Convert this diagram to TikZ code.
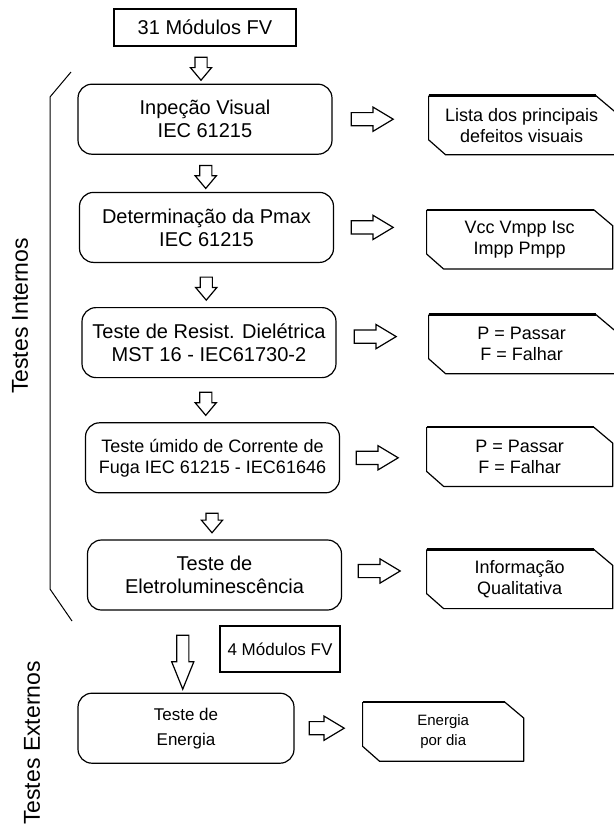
\documentclass[tikz,border=0pt]{standalone}
\usepackage{fontspec}
\setmainfont{Liberation Sans}
\usetikzlibrary{positioning,calc,shapes.arrows}

\begin{document}
\begin{tikzpicture}[x=1pt, y=-1pt, line width=1.2pt,
  proc/.style={draw, rounded corners=14pt, minimum width=254pt, minimum height=70pt, align=center, font=\fontsize{20}{23}\selectfont},
  res/.style={minimum width=185pt, minimum height=58pt, align=center, font=\fontsize{18}{21}\selectfont},
  lot/.style={draw, minimum height=37pt, align=center},
  darr/.style={draw, single arrow, shape border rotate=270, inner sep=5.5pt, single arrow head extend=4.5pt, single arrow tip angle=80, minimum height=23pt},
  rarr/.style={draw, single arrow, inner sep=6pt, single arrow head extend=5.5pt, single arrow tip angle=62, minimum height=42pt},
  side/.style={rotate=90, font=\fontsize{23}{26}\selectfont}
]
\useasboundingbox (0,0) rectangle (613,827);

% Testes internos
\node[lot, minimum width=182pt, font=\fontsize{20}{23}\selectfont] (lot31) at (205,27.5) {31 Módulos FV};
\node[proc, below=37pt of lot31] (b1) {Inpeção Visual\\IEC 61215};
\node[proc, below=37pt of b1, xshift=1.5pt] (b2) {Determinação da Pmax\\IEC 61215};
\node[proc, below=44pt of b2, xshift=2.5pt] (b3) {Teste de Resist. Dielétrica\\MST 16 - IEC61730-2};
\node[proc, below=44pt of b3, xshift=3.5pt, font=\fontsize{18}{21}\selectfont] (b4) {Teste úmido de Corrente de\\Fuga IEC 61215 - IEC61646};
\node[proc, below=46pt of b4, xshift=2pt] (b5) {Teste de\\Eletroluminescência};

% Testes externos
\node[lot, minimum width=120pt, minimum height=46pt, font=\fontsize{17}{20}\selectfont] (lot4) at (280,649) {4 Módulos FV};
\node[proc, below=82pt of b5, xshift=-28.5pt, minimum width=216pt, font=\fontsize{17}{25}\selectfont] (b6) {Teste de\\Energia};

% Resultados
\node[res, right=96pt of b1, yshift=-6pt] (o1) {Lista dos principais\\defeitos visuais};
\node[res, right=92.5pt of b2, yshift=-12pt] (o2) {Vcc Vmpp Isc\\Impp Pmpp};
\node[res, right=92pt of b3, yshift=-1.5pt] (o3) {P = Passar\\F = Falhar};
\node[res, right=86.5pt of b4, yshift=1pt] (o4) {P = Passar\\F = Falhar};
\node[res, right=84.5pt of b5, yshift=-4pt] (o5) {Informação\\Qualitativa};
\node[res, right=68pt of b6, yshift=-3.5pt, minimum width=160pt, font=\fontsize{15}{20}\selectfont] (o6) {Energia\\por dia};
\foreach \o in {o1,o2,o3,o4,o5,o6} {
  \draw[line join=round] ([xshift=-19pt]\o.north east) -- ([yshift=-16pt]\o.north east) -- (\o.south east)
    -- ([xshift=17pt]\o.south west) -- ([yshift=15pt]\o.south west) -- (\o.north west);
  \draw[line width=2.4pt] (\o.north west) -- ([xshift=-19pt]\o.north east);
}

% Setas
\node[darr, xshift=-4pt] (d0) at ($(lot31.south)!.5!(b1.north)$) {};
\node[darr] (d1) at ($(b1.south)!.5!(b2.north)$) {};
\node[darr, xshift=-1.5pt] (d2) at ($(b2.south)!.5!(b3.north)$) {};
\node[darr, xshift=-5pt] (d3) at ($(b3.south)!.5!(b4.north)$) {};
\node[darr, xshift=-1.5pt, yshift=-3pt, minimum height=17pt] (d4) at ($(b4.south)!.5!(b5.north)$) {};
\node[darr, xshift=-17.5pt, yshift=-3pt, minimum height=54pt, single arrow head extend=5pt, single arrow tip angle=44] (d5) at ($(b5.south)!.5!(b6.north)$) {};

\node[rarr, right=18pt of b1] (r1) {};
\node[rarr, right=16.5pt of b2] (r2) {};
\node[rarr, right=17pt of b3, yshift=6pt] (r3) {};
\node[rarr, right=15.5pt of b4] (r4) {};
\node[rarr, right=15.5pt of b5, yshift=4pt] (r5) {};
\node[rarr, right=14pt of b6, minimum height=35pt] (r6) {};

% Chave e rotulos laterais
\draw[line width=1pt] (71,72) -- (50,97) -- (50,589) -- (72,621);
\node[side] (ti) at (20,316) {Testes Internos};
\node[side] (te) at (32,743) {Testes Externos};
\end{tikzpicture}
\end{document}
